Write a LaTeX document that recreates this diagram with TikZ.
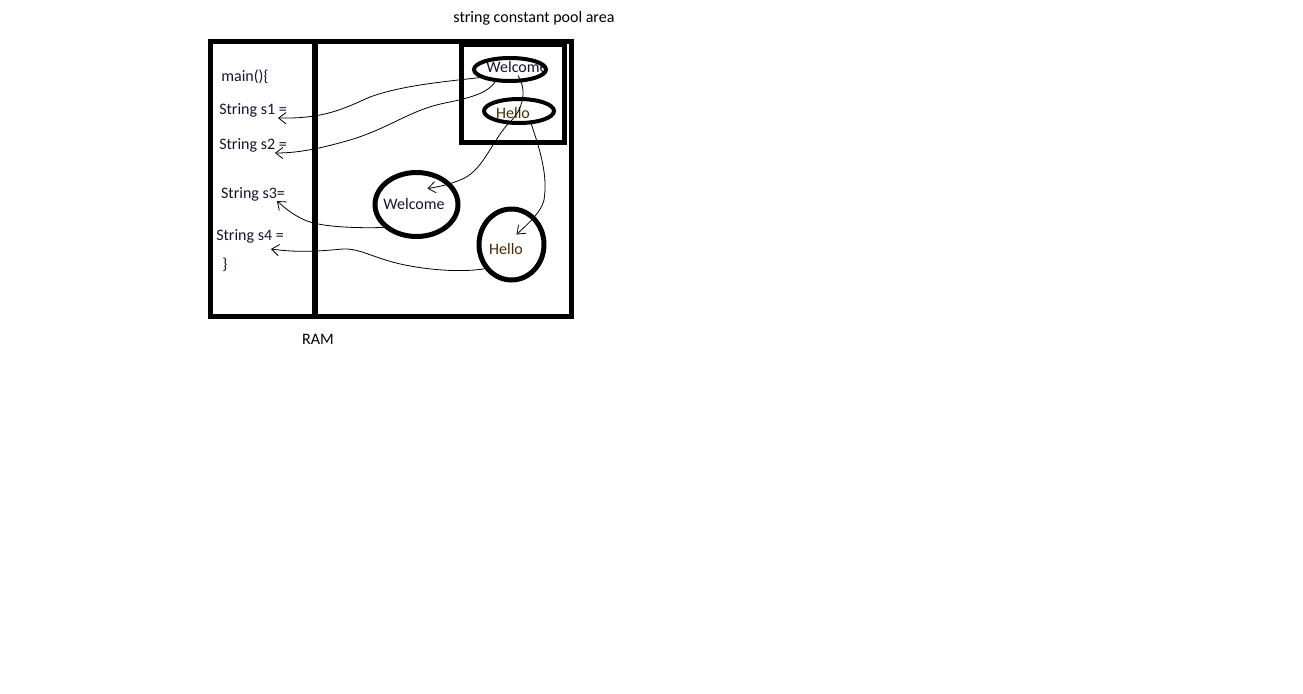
\documentclass[tikz,border=0pt]{standalone}
\usepackage{fontspec}
\setmainfont{Carlito}
\usetikzlibrary{shapes.geometric,arrows.meta}
\definecolor{inkblue}{RGB}{18,22,52}
\definecolor{inkbrown}{RGB}{72,42,6}
\tikzset{
  txt/.style={inner sep=0pt, font=\fontsize{12pt}{14pt}\selectfont, text=inkblue},
  ring/.style={draw, ellipse, line width=3pt, inner sep=0pt},
  bigring/.style={ring, line width=3.75pt},
  ref/.style={line width=0.6pt, -{Straight Barb[length=5.5pt,width=8.5pt]}}
}

\begin{document}
\begin{tikzpicture}[x=0.75pt, y=-0.75pt]
\fill[white] (0,0) rectangle (1303,693);
\useasboundingbox (0,0) rectangle (1303,693);
\draw[line width=4pt] (210.5,41.5) rectangle (571.5,316.5);
\draw[line width=4pt] (315,41.5) -- (315,316.5);
\draw[line width=3.75pt] (461.5,44) rectangle (564.5,142);
\node[txt, text=black] (pooltitle) at (534,18) {string constant pool area};
\node[txt, text=black] (ram) at (318,339) {RAM};
\node[txt] (main) at (245,77) {main()\{};
\node[txt] (sone) at (253,110) {String s1 =};
\node[txt] (stwo) at (253,145) {String s2 =};
\node[txt] (sthree) at (253,194) {String s3=};
\node[txt] (sfour) at (250,236) {String s4 =};
\node[txt] (close) at (225,265) {\}};
\node[txt] (poolwelcometext) at (517,67) {Welcome};
\node[txt, text=inkbrown] (poolhellotext) at (513,113) {Hello};
\node[txt] (heapwelcometext) at (414,204) {Welcome};
\node[txt, text=inkbrown] (heaphellotext) at (506,249) {Hello};
\node[ring, minimum width=54pt, minimum height=17.25pt] (poolwelcome) at (510,69.5) {};
\node[ring, minimum width=52.5pt, minimum height=18pt] (poolhello) at (519,111) {};
\node[bigring, minimum width=62.25pt, minimum height=48pt] (heapwelcome) at (416.5,204.5) {};
\node[bigring, minimum width=48.75pt, minimum height=53.25pt] (heaphello) at (511.5,244.5) {};
\draw[ref] (poolwelcome.195) .. controls (440,82) and (400,86) .. (370,97) .. controls (345,108) and (325,119) .. ([shift={(25,8)}]sone.center);
\draw[ref] (poolwelcome.220) .. controls (488,92) and (475,97) .. (445,103) .. controls (410,110) and (390,128) .. (350,140) .. controls (322,148) and (300,153) .. ([shift={(22,8)}]stwo.center);
\draw[ref] ([shift={(8,6)}]poolwelcome.center) .. controls (526,88) and (526,108) .. (507,125) .. controls (490,145) and (482,172) .. (460,180) .. controls (448,185) and (437,187) .. ([shift={(11,-16)}]heapwelcome.center);
\draw[ref] (poolhello.-47) .. controls (540,150) and (548,175) .. (544,200) .. controls (541,212) and (530,222) .. ([shift={(5,-10)}]heaphello.center);
\draw[ref] (heapwelcome.215) .. controls (365,228) and (330,228) .. (310,222) .. controls (295,217) and (285,208) .. ([shift={(24,7)}]sthree.center);
\draw[ref] (heaphello.222) .. controls (465,272) and (435,271) .. (405,265) .. controls (375,259) and (360,248) .. (343,249) .. controls (320,251) and (300,253) .. ([shift={(21,13)}]sfour.center);
\end{tikzpicture}
\end{document}
